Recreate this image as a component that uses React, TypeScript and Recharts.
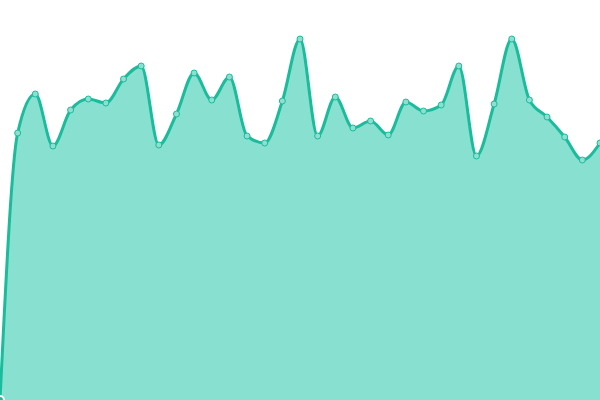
import { AreaChart, Area, XAxis, YAxis } from "recharts";

// Sample index along the x axis, one per point
const steps = [
  0, 1, 2, 3, 4, 5, 6, 7, 8, 9, 10, 11, 12, 13, 14, 15, 16, 17,
  18, 19, 20, 21, 22, 23, 24, 25, 26, 27, 28, 29, 30, 31, 32, 33, 34,
];

// Values (0 at the bottom, 400 at the top)
const values = [
  0, 267, 306, 254, 290, 301, 297, 321, 334, 255, 286, 327, 300, 323, 264,
  257, 299, 361, 264, 303, 272, 279, 265, 298, 289, 295, 334, 244, 296, 361,
  300, 283, 263, 240, 257,
];

const data = steps.map((step, i) => ({ step, value: values[i] }));

const STROKE = "#1abc9c";
const FILL = "#88e0d0";

export default function App() {
  return (
    <div style={{ position: "fixed", left: 0, top: 0, width: 600, height: 400 }}>
      <AreaChart
        width={600}
        height={400}
        data={data}
        margin={{ top: 0, right: 0, bottom: 0, left: 0 }}
      >
        <XAxis dataKey="step" type="number" domain={[0, 34]} hide />
        <YAxis domain={[0, 400]} hide />
        <Area
          type="monotone"
          dataKey="value"
          stroke={STROKE}
          strokeWidth={3}
          fill={FILL}
          fillOpacity={1}
          dot={{ r: 3, fill: "#8de0cf", stroke: STROKE, strokeWidth: 1 }}
          isAnimationActive={false}
        />
      </AreaChart>
    </div>
  );
}
